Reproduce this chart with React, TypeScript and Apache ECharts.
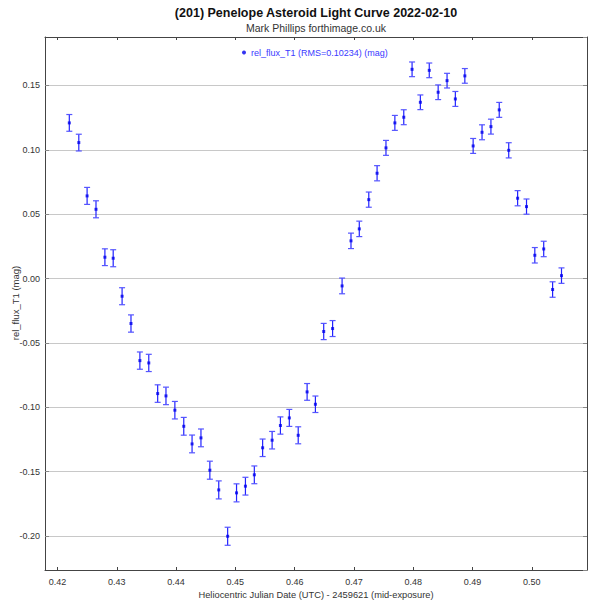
import React, { useEffect, useRef } from 'react';
import * as echarts from 'echarts';

// HJD - 2459621
const hjd = [
  0.4220, 0.4236, 0.4250, 0.4265, 0.4280, 0.4294, 0.4309, 0.4324, 0.4339, 0.4354,
  0.4369, 0.4383, 0.4398, 0.4413, 0.4427, 0.4442, 0.4457, 0.4472, 0.4487, 0.4502,
  0.4517, 0.4532, 0.4546, 0.4562, 0.4576, 0.4591, 0.4606, 0.4621, 0.4635, 0.4649,
  0.4664, 0.4680, 0.4695, 0.4709, 0.4725, 0.4739, 0.4754, 0.4769, 0.4784, 0.4798,
  0.4812, 0.4827, 0.4842, 0.4857, 0.4871, 0.4887, 0.4901, 0.4916, 0.4931, 0.4945,
  0.4961, 0.4976, 0.4991, 0.5005, 0.5020, 0.5035, 0.5050,
];

// rel_flux_T1 (mag)
const relFlux = [
  0.1209, 0.1056, 0.0642, 0.0538, 0.0166, 0.0158, -0.0137, -0.0349, -0.0637, -0.0655,
  -0.0893, -0.0911, -0.1022, -0.1147, -0.1284, -0.1237, -0.1488, -0.1641, -0.2001, -0.1664,
  -0.1612, -0.1524, -0.1314, -0.1255, -0.1141, -0.1082, -0.1217, -0.0880, -0.0976, -0.0411,
  -0.0388, -0.0057, 0.0293, 0.0386, 0.0613, 0.0818, 0.1015, 0.1209, 0.1253, 0.1625,
  0.1369, 0.1617, 0.1447, 0.1537, 0.1395, 0.1574, 0.1030, 0.1136, 0.1180, 0.1310,
  0.0996, 0.0624, 0.0559, 0.0181, 0.0230, -0.0085, 0.0023,
];

// error bar half heights (mag)
const relErr = [
  0.0065, 0.0065, 0.0066, 0.0066, 0.0065, 0.0066, 0.0066, 0.0067, 0.0067, 0.0067,
  0.0068, 0.0068, 0.0068, 0.0069, 0.0069, 0.0069, 0.0070, 0.0070, 0.0070, 0.0070,
  0.0069, 0.0069, 0.0068, 0.0068, 0.0067, 0.0066, 0.0066, 0.0065, 0.0064, 0.0063,
  0.0062, 0.0061, 0.0060, 0.0060, 0.0059, 0.0059, 0.0058, 0.0058, 0.0058, 0.0057,
  0.0057, 0.0057, 0.0057, 0.0057, 0.0058, 0.0057, 0.0058, 0.0058, 0.0058, 0.0058,
  0.0059, 0.0059, 0.0059, 0.0060, 0.0060, 0.0060, 0.0060,
];

const seriesName = 'rel_flux_T1 (RMS=0.10234) (mag)';
const font = '"Liberation Sans", Arial, sans-serif';

const App: React.FC = () => {
  const chartRef = useRef<HTMLDivElement | null>(null);

  useEffect(() => {
    document.body.style.margin = '0';
    const chart = echarts.init(chartRef.current!, null, { renderer: 'svg' });

    const pts = hjd.map((t, i) => [t, relFlux[i], relErr[i]]);

    const xMin = 0.4179, xMax = 0.5093;
    const yMin = -0.2263, yMax = 0.1876;
    const fmt = (v: number) => v.toFixed(2);

    const option: any = {
      animation: false,
      backgroundColor: '#fff',
      textStyle: { fontFamily: font },
      graphic: [
        {
          type: 'text', x: 316, y: 13,
          style: { text: '(201) Penelope Asteroid Light Curve 2022-02-10', fontSize: 12.5, fontWeight: 'bold', fontFamily: font, fill: '#111', align: 'center', verticalAlign: 'middle' },
        },
        {
          type: 'text', x: 316, y: 28,
          style: { text: 'Mark Phillips forthimage.co.uk', fontSize: 10.5, fontFamily: font, fill: '#333', align: 'center', verticalAlign: 'middle' },
        },
        {
          // y axis title, drawn by hand so it sits where the reference has it
          type: 'text', x: 15, y: 303, rotation: Math.PI / 2,
          style: { text: 'rel_flux_T1 (mag)', fontSize: 9.5, fontFamily: font, fill: '#333', align: 'center', verticalAlign: 'middle' },
        },
      ],
      legend: {
        data: [{ name: seriesName, icon: 'circle' }],
        left: 237, top: 43,
        itemWidth: 4, itemHeight: 4,
        textStyle: { color: '#3a3aff', fontSize: 9, fontFamily: font },
      },
      grid: { left: 45, right: 13, top: 37, bottom: 30, containLabel: false, outerBoundsMode: 'none' },
      xAxis: [
        {
          type: 'value', min: xMin, max: xMax, splitNumber: 9,
          name: 'Heliocentric Julian Date (UTC) - 2459621 (mid-exposure)',
          nameLocation: 'middle', nameGap: 17,
          nameTextStyle: { fontSize: 9.3, color: '#333', fontFamily: font },
          axisLine: { onZero: false, lineStyle: { color: '#444', width: 1 } },
          axisTick: { inside: true, length: 3, lineStyle: { color: '#444' } },
          axisLabel: { fontSize: 9, color: '#333', margin: 7, formatter: fmt, showMinLabel: false, showMaxLabel: false },
          splitLine: { show: false },
        },
        {
          type: 'value', position: 'top', min: xMin, max: xMax, splitNumber: 9,
          axisLine: { onZero: false, lineStyle: { color: '#444', width: 1 } },
          axisTick: { inside: true, length: 3, lineStyle: { color: '#444' } },
          axisLabel: { show: false },
          splitLine: { show: false },
        },
      ],
      yAxis: [
        {
          type: 'value', min: yMin, max: yMax, splitNumber: 8,
          axisLine: { show: true, onZero: false, lineStyle: { color: '#444', width: 1 } },
          axisTick: { show: true, inside: true, length: 4, lineStyle: { color: '#888' } },
          axisLabel: { fontSize: 9, color: '#333', margin: 5, formatter: fmt, showMinLabel: false, showMaxLabel: false },
          splitLine: { show: true, lineStyle: { color: '#c8c8c8', width: 1 } },
        },
        {
          type: 'value', position: 'right', min: yMin, max: yMax, splitNumber: 8,
          axisLine: { show: true, onZero: false, lineStyle: { color: '#444', width: 1 } },
          axisTick: { show: true, inside: true, length: 4, lineStyle: { color: '#888' } },
          axisLabel: { show: false },
          splitLine: { show: false },
        },
      ],
      series: [
        {
          type: 'custom',
          xAxisIndex: 0, yAxisIndex: 0,
          data: pts,
          renderItem: (params: any, api: any) => {
            const x = api.value(0);
            const y = api.value(1);
            const e = api.value(2);
            const hi = api.coord([x, y + e]);
            const lo = api.coord([x, y - e]);
            const cw = 3;
            return {
              type: 'group',
              children: [
                { type: 'line', shape: { x1: hi[0], y1: hi[1], x2: lo[0], y2: lo[1] }, style: { stroke: '#2222ff', lineWidth: 1.2 } },
                { type: 'line', shape: { x1: hi[0] - cw, y1: hi[1], x2: hi[0] + cw, y2: hi[1] }, style: { stroke: '#5555ff', lineWidth: 1.2 } },
                { type: 'line', shape: { x1: lo[0] - cw, y1: lo[1], x2: lo[0] + cw, y2: lo[1] }, style: { stroke: '#5555ff', lineWidth: 1.2 } },
              ],
            };
          },
          z: 2,
        },
        {
          name: seriesName,
          type: 'scatter',
          xAxisIndex: 0, yAxisIndex: 0,
          data: pts.map((p) => [p[0], p[1]]),
          symbol: 'rect',
          symbolSize: 3,
          itemStyle: { color: '#0000ee' },
          z: 3,
        },
      ],
    };

    chart.setOption(option);
    return () => {
      chart.dispose();
    };
  }, []);

  return <div ref={chartRef} style={{ width: '600px', height: '600px' }} />;
};

export default App;
